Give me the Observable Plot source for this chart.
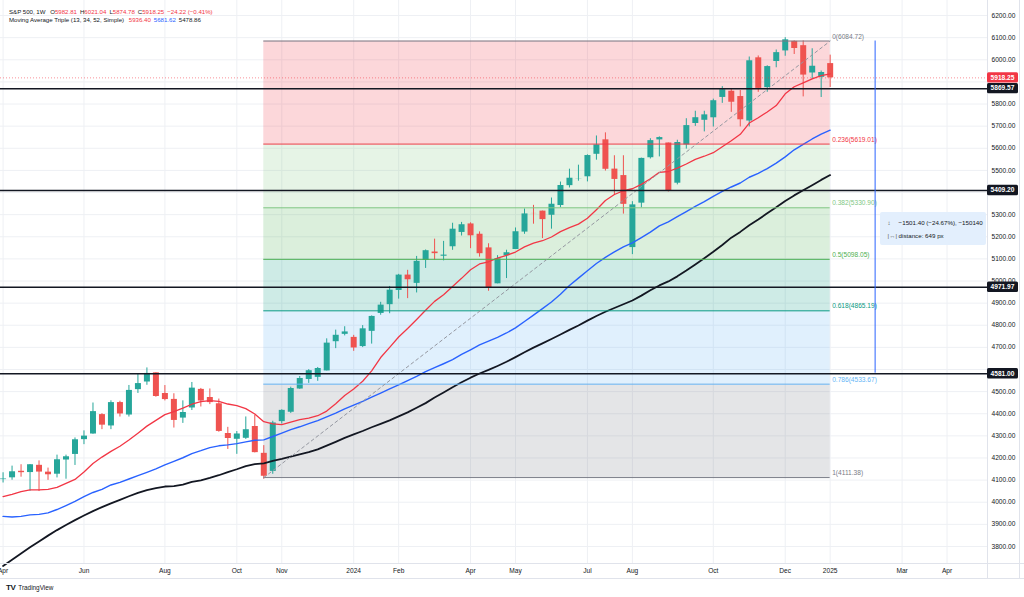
<!DOCTYPE html>
<html>
<head>
<meta charset="utf-8">
<script src="https://cdn.jsdelivr.net/npm/d3@7"></script>
<script src="https://cdn.jsdelivr.net/npm/@observablehq/plot@0.6"></script>
<style>
html,body{margin:0;padding:0;background:#fff;}
#wrap{position:relative;width:1024px;height:597px;overflow:hidden;font-family:"Liberation Sans",Arial,sans-serif;}
#chart{position:absolute;left:0;top:0;}
.legend{position:absolute;left:9px;font-size:6.1px;color:#131722;white-space:nowrap;line-height:1;}
.legend .g{margin-left:3px}
.red{color:#f23645}
.blue{color:#2962ff}
.blk{color:#131722}
#measure{position:absolute;background:#e3effd;border-radius:2px;font-size:6.2px;color:#131722;box-sizing:border-box;padding:4px 0 0 8px;line-height:13px;white-space:nowrap;}
#measure .ic{display:inline-block;width:11px;color:#555;}
#logo{position:absolute;left:6px;top:583px;font-size:6.4px;color:#131722;white-space:nowrap;}
#logo b{font-weight:900;font-size:8px;letter-spacing:-0.5px;margin-right:3px;}
</style>
</head>
<body>
<div id="wrap">
  <div id="chart"></div>
  <div class="legend" id="l1" style="top:9px"></div>
  <div class="legend" id="l2" style="top:17px"></div>
  <div id="measure"></div>
  <div id="logo"><b>TV</b>TradingView</div>
</div>
<script>
// ---------- data ----------
const weeks = [
"2023-04-03","2023-04-10","2023-04-17","2023-04-24","2023-05-01","2023-05-08","2023-05-15","2023-05-22","2023-05-29","2023-06-05",
"2023-06-12","2023-06-19","2023-06-26","2023-07-03","2023-07-10","2023-07-17","2023-07-24","2023-07-31","2023-08-07","2023-08-14",
"2023-08-21","2023-08-28","2023-09-04","2023-09-11","2023-09-18","2023-09-25","2023-10-02","2023-10-09","2023-10-16","2023-10-23",
"2023-10-30","2023-11-06","2023-11-13","2023-11-20","2023-11-27","2023-12-04","2023-12-11","2023-12-18","2023-12-25","2024-01-01",
"2024-01-08","2024-01-15","2024-01-22","2024-01-29","2024-02-05","2024-02-12","2024-02-19","2024-02-26","2024-03-04","2024-03-11",
"2024-03-18","2024-03-25","2024-04-01","2024-04-08","2024-04-15","2024-04-22","2024-04-29","2024-05-06","2024-05-13","2024-05-20",
"2024-05-27","2024-06-03","2024-06-10","2024-06-17","2024-06-24","2024-07-01","2024-07-08","2024-07-15","2024-07-22","2024-07-29",
"2024-08-05","2024-08-12","2024-08-19","2024-08-26","2024-09-02","2024-09-09","2024-09-16","2024-09-23","2024-09-30","2024-10-07",
"2024-10-14","2024-10-21","2024-10-28","2024-11-04","2024-11-11","2024-11-18","2024-11-25","2024-12-02","2024-12-09","2024-12-16",
"2024-12-23","2024-12-30","2025-01-06"];

const opens = [
4102.2,4110.3,4139.9,4134.1,4166.8,4136.0,4126.6,4190.8,4216.0,4282.9,
4308.3,4396.1,4344.8,4450.5,4394.2,4508.9,4543.4,4584.8,4491.6,4464.8,
4380.3,4426.0,4510.1,4473.3,4445.1,4310.6,4284.5,4289.0,4342.4,4221.0,
4139.4,4364.3,4406.7,4511.7,4554.9,4564.4,4593.4,4725.6,4758.9,4745.2,
4703.7,4772.4,4853.4,4893.0,4957.2,5026.8,4989.3,5093.0,5131.0,5112.0,
5154.8,5219.5,5258.0,5211.4,5149.7,4987.3,5114.1,5142.4,5221.1,5305.4,
5315.9,5297.2,5341.2,5431.1,5459.6,5471.1,5572.8,5638.2,5505.8,5476.6,
5151.1,5351.9,5557.2,5637.8,5623.9,5442.1,5615.1,5711.9,5726.5,5737.8,
5829.8,5857.8,5833.9,5723.2,6008.9,5874.2,5992.3,6040.1,6083.0,6063.8,
5940.3,5920.7,5982.81];
const highs = [
4133.1,4163.2,4169.5,4170.1,4186.9,4154.3,4212.9,4212.9,4290.7,4322.6,
4448.5,4400.2,4458.5,4456.5,4527.8,4578.4,4607.1,4584.6,4527.4,4490.3,
4458.3,4541.3,4514.3,4512.0,4466.4,4338.5,4319.6,4385.5,4393.6,4255.8,
4366.0,4418.0,4520.1,4568.4,4599.4,4609.2,4738.6,4778.0,4793.3,4754.3,
4798.5,4842.1,4903.7,4975.3,5030.1,5048.4,5111.1,5140.3,5189.3,5179.1,
5261.1,5264.9,5263.0,5222.1,5168.4,5114.6,5139.1,5239.7,5325.5,5341.9,
5315.9,5375.1,5447.3,5505.5,5523.6,5570.3,5655.6,5669.7,5566.2,5566.2,
5358.6,5555.4,5643.2,5651.6,5623.9,5636.3,5733.6,5767.4,5767.4,5822.1,
5878.5,5866.9,5861.0,6012.5,6017.3,5972.9,6044.2,6100.0,6085.2,6085.2,
6049.8,5949.3,6021.04];
const lows = [
4086.9,4099.4,4113.2,4049.4,4048.3,4098.9,4109.9,4104.0,4166.2,4260.2,
4307.2,4328.1,4328.1,4385.1,4385.1,4491.7,4528.6,4474.6,4458.0,4335.3,
4356.3,4414.5,4430.5,4441.2,4316.5,4238.6,4216.5,4283.8,4223.0,4103.8,
4126.3,4353.3,4401.4,4510.4,4537.2,4546.5,4593.4,4694.3,4751.9,4682.1,
4699.0,4714.8,4845.2,4852.1,4918.1,4920.3,4946.0,5056.8,5094.4,5091.1,
5138.7,5203.4,5146.1,5107.9,4953.6,4987.3,5011.1,5142.4,5211.2,5256.9,
5191.7,5234.3,5331.5,5420.5,5451.1,5448.0,5546.2,5497.0,5391.0,5302.4,
5119.3,5330.8,5551.5,5561.0,5402.6,5434.5,5596.4,5698.9,5674.0,5695.9,
5803.1,5762.4,5696.5,5696.5,5853.0,5853.0,5963.9,6016.0,6024.0,5832.3,
5911.0,5829.5,5874.78];
const closes = [
4105.02,4137.64,4133.52,4169.48,4136.25,4124.08,4191.98,4205.45,4282.37,4298.86,
4409.59,4348.33,4450.38,4398.95,4505.42,4536.34,4582.23,4478.03,4464.05,4369.71,
4405.71,4515.77,4457.49,4450.32,4320.06,4288.05,4308.50,4327.78,4224.16,4117.37,
4358.34,4415.24,4514.02,4559.34,4594.63,4604.37,4719.19,4754.63,4769.83,4697.24,
4783.83,4839.81,4890.97,4958.61,5026.61,5005.57,5088.80,5137.08,5123.69,5117.09,
5234.18,5254.35,5204.34,5123.41,4967.23,5099.96,5127.79,5222.68,5303.27,5304.72,
5277.51,5346.99,5431.60,5464.62,5460.48,5567.19,5615.35,5505.00,5459.10,5346.56,
5344.16,5554.25,5634.61,5648.40,5408.42,5626.02,5702.55,5738.17,5751.07,5815.03,
5864.67,5808.12,5728.80,5995.54,5870.62,5969.34,6032.38,6090.27,6051.09,5930.85,
5970.84,5942.47,5918.25];

// moving averages (13, 34, 52) read per week
const ma13 = [
4025,4036,4048,4056,4056,4058,4067,4085,4103,4137,
4175,4204,4230,4253,4281,4312,4344,4370,4396,4410,
4425,4443,4455,4459,4456,4444,4437,4423,4399,4364,
4354,4351,4362,4373,4380,4391,4412,4445,4482,4512,
4547,4594,4654,4700,4747,4785,4826,4868,4908,4938,
4975,5012,5051,5077,5087,5103,5116,5131,5154,5171,
5182,5199,5223,5241,5257,5284,5322,5364,5391,5408,
5417,5437,5462,5491,5495,5510,5529,5550,5564,5580,
5607,5634,5663,5714,5738,5764,5793,5846,5878,5896,
5914,5928,5936.40];
const ma34 = [
3936,3933,3936,3943,3945,3952,3967,3985,4004,4025,
4044,4058,4078,4090,4105,4120,4135,4151,4169,4185,
4201,4220,4233,4247,4255,4259,4265,4273,4280,4282,
4297,4312,4328,4341,4355,4369,4386,4403,4422,4439,
4456,4475,4493,4512,4530,4550,4569,4590,4608,4626,
4645,4668,4689,4711,4728,4745,4765,4788,4817,4846,
4875,4905,4940,4980,5013,5046,5079,5107,5132,5154,
5172,5196,5221,5249,5267,5291,5314,5337,5359,5383,
5405,5425,5443,5469,5487,5508,5533,5561,5593,5618,
5642,5664,5681.62];
const ma52 = [
3712,3740,3768,3796,3823,3849,3874,3897,3919,3940,
3960,3978,3995,4011,4027,4042,4055,4064,4071,4073,
4080,4092,4099,4110,4122,4136,4149,4163,4172,4176,
4187,4196,4206,4216,4226,4239,4256,4273,4291,4307,
4322,4339,4354,4370,4388,4406,4427,4448,4473,4496,
4520,4542,4563,4582,4598,4616,4635,4656,4678,4699,
4718,4738,4758,4779,4799,4821,4842,4861,4878,4895,
4912,4934,4958,4980,4998,5021,5047,5075,5103,5132,
5163,5196,5222,5252,5278,5306,5333,5362,5387,5410,
5433,5457,5478.86];

// Fibonacci retracement
const fibRatios = [0, 0.236, 0.382, 0.5, 0.618, 0.786, 1];
const fibPrices = [6084.72, 5619.01, 5330.90, 5098.05, 4865.19, 4533.67, 4111.38];
const fibColors = ["#787b86", "#f23645", "#81c784", "#4caf50", "#089981", "#64b5f6", "#787b86"];
const fibAnchors = ["2023-10-23", "2025-01-06"];

// horizontal support/resistance lines
const srLevels = [5869.57, 5409.20, 4971.97, 4581.00];

// measure tool
const measureDate = "2025-02-10";
const measurePrices = [6084.72, 4583.32];
const measureDistance = "649 px";

// axis ticks
const xTickDates = ["2023-04-03","2023-06-05","2023-08-07","2023-10-02","2023-11-06","2024-01-01","2024-02-05","2024-04-01","2024-05-06","2024-07-01","2024-08-05","2024-10-07","2024-12-02","2025-01-06","2025-03-03","2025-04-07"];
const xTickLabels = ["Apr","Jun","Aug","Oct","Nov","2024","Feb","Apr","May","Jul","Aug","Oct","Dec","2025","Mar","Apr"];
const gridPrices = [3800,3900,4000,4100,4200,4300,4400,4500,4600,4700,4800,4900,5000,5100,5200,5300,5400,5500,5600,5700,5800,5900,6000,6100,6200];
// labels hidden behind the price boxes in the reference are not printed
const yTickLabels = [3800,3900,4000,4100,4200,4300,4400,4500,4700,4800,4900,5000,5100,5200,5300,5500,5600,5700,5800,6000,6100,6200];

// ---------- checks ----------
[opens, highs, lows, closes, ma13, ma34, ma52].forEach((a, i) => {
  if (a.length !== weeks.length) throw new Error("length mismatch in array " + i + ": " + a.length + " vs " + weeks.length);
});

// ---------- build ----------
const parse = d3.utcParse("%Y-%m-%d");
const UP = "#26a69a", DOWN = "#ef5350";
const candles = weeks.map((w, i) => ({date: parse(w), open: opens[i], high: highs[i], low: lows[i], close: closes[i]}));
const upC = candles.filter(d => d.close >= d.open);
const dnC = candles.filter(d => d.close < d.open);
const maRows = weeks.map((w, i) => ({date: parse(w), a: ma13[i], b: ma34[i], c: ma52[i]}));
const fStart = parse(fibAnchors[0]), fEnd = parse(fibAnchors[1]);
const tickDates = xTickDates.map(parse);
const tickLabel = new Map(tickDates.map((d, i) => [+d, xTickLabels[i]]));
const last = candles.length - 1;
const lastClose = closes[last];

const fibBandMarks = fibPrices.slice(0, -1).map((p, i) =>
  Plot.rect([{x1: fStart, x2: fEnd, y1: p, y2: fibPrices[i + 1]}], {x1: "x1", x2: "x2", y1: "y1", y2: "y2", fill: fibColors[i + 1], fillOpacity: 0.2})
);
const fibLineMarks = fibPrices.map((p, i) =>
  Plot.ruleY([p], {x1: fStart, x2: fEnd, stroke: fibColors[i], strokeWidth: 1})
);
const fibLabelMarks = fibPrices.map((p, i) =>
  Plot.text([`${fibRatios[i]}(${p.toFixed(2)})`], {x: fEnd, y: p, dx: 2, dy: -4.5, textAnchor: "start", fill: fibColors[i], fontSize: 6.6})
);

const chart = Plot.plot({
  width: 1024,
  height: 580,
  marginLeft: 0,
  marginRight: 37,
  marginTop: 0,
  marginBottom: 17,
  style: {fontFamily: "'Liberation Sans', Arial, sans-serif", fontSize: "6.6px", background: "transparent", overflow: "hidden"},
  x: {type: "utc", domain: [parse("2023-04-01"), new Date(Date.UTC(2025, 4, 8, 12))]},
  y: {domain: [3723, 6268]},
  marks: [
    Plot.gridY(gridPrices, {stroke: "#eef0f4", strokeOpacity: 1}),
    Plot.gridX(tickDates, {stroke: "#eef0f4", strokeOpacity: 1}),
    ...fibBandMarks,
    // candles
    Plot.ruleX(upC, {x: "date", y1: "low", y2: "high", stroke: UP, strokeWidth: 1}),
    Plot.ruleX(dnC, {x: "date", y1: "low", y2: "high", stroke: DOWN, strokeWidth: 1}),
    Plot.ruleX(upC, {x: "date", y1: "open", y2: "close", stroke: UP, strokeWidth: 6}),
    Plot.ruleX(dnC, {x: "date", y1: "open", y2: "close", stroke: DOWN, strokeWidth: 6}),
    // moving averages
    Plot.line(maRows, {x: "date", y: "c", stroke: "#131722", strokeWidth: 1.8}),
    Plot.line(maRows, {x: "date", y: "b", stroke: "#2962ff", strokeWidth: 1.4}),
    Plot.line(maRows, {x: "date", y: "a", stroke: "#f23645", strokeWidth: 1.3}),
    // drawings
    ...fibLineMarks,
    Plot.line([{x: fStart, y: fibPrices[fibPrices.length - 1]}, {x: fEnd, y: fibPrices[0]}], {x: "x", y: "y", stroke: "#9598a1", strokeWidth: 1, strokeDasharray: "3,3"}),
    ...fibLabelMarks,
    Plot.ruleY(srLevels, {stroke: "#131722", strokeWidth: 1.5}),
    Plot.ruleY([lastClose], {stroke: "#f23645", strokeOpacity: 0.55, strokeDasharray: "1,2", strokeWidth: 1}),
    Plot.ruleX([parse(measureDate)], {y1: measurePrices[0], y2: measurePrices[1], stroke: "#2962ff", strokeWidth: 1}),
    // axes
    Plot.axisY(yTickLabels, {anchor: "right", tickSize: 0, tickPadding: 4, tickFormat: d => d.toFixed(2), fill: "#131722", fontSize: 6.6}),
    Plot.axisX(tickDates, {anchor: "bottom", tickSize: 0, tickPadding: 5, tickFormat: d => tickLabel.get(+d), fill: "#131722", fontSize: 6.6})
  ]
});
document.getElementById("chart").appendChild(chart);

// ---------- price-axis labels and chrome ----------
const ys = chart.scale("y"), xs = chart.scale("x");
const svg = d3.select(chart);
const chrome = svg.append("g");
chrome.append("line").attr("x1", 987.5).attr("x2", 987.5).attr("y1", 0).attr("y2", 579).attr("stroke", "#e0e3eb");
chrome.append("line").attr("x1", 0).attr("x2", 1024).attr("y1", 563.5).attr("y2", 563.5).attr("stroke", "#e0e3eb");
chrome.append("line").attr("x1", 0).attr("x2", 1024).attr("y1", 578.5).attr("y2", 578.5).attr("stroke", "#e0e3eb");
chrome.append("line").attr("x1", 1019.5).attr("x2", 1019.5).attr("y1", 0).attr("y2", 579).attr("stroke", "#e0e3eb");
function priceBox(v, col) {
  const yy = ys.apply(v);
  chrome.append("rect").attr("x", 987).attr("y", yy - 5.2).attr("width", 31).attr("height", 10.4).attr("rx", 1.5).attr("fill", col);
  chrome.append("text").attr("x", 1002.5).attr("y", yy).attr("dy", "0.35em").attr("text-anchor", "middle")
    .attr("fill", "#fff").attr("font-size", 6.6).attr("font-weight", 700).text(v.toFixed(2));
}
srLevels.forEach(v => priceBox(v, "#131722"));
priceBox(lastClose, "#f23645");

// ---------- legend ----------
const chg = lastClose - closes[last - 1];
const pct = chg / closes[last - 1] * 100;
const fmt = v => (v < 0 ? "\u2212" : "") + Math.abs(v).toFixed(2);
document.getElementById("l1").innerHTML =
  `S&amp;P 500, 1W <span class="g">O<span class="red">${opens[last].toFixed(2)}</span></span>` +
  `<span class="g">H<span class="red">${highs[last].toFixed(2)}</span></span>` +
  `<span class="g">L<span class="red">${lows[last].toFixed(2)}</span></span>` +
  `<span class="g">C<span class="red">${lastClose.toFixed(2)}</span></span>` +
  `<span class="g red">${fmt(chg)} (${fmt(pct)}%)</span>`;
document.getElementById("l2").innerHTML =
  `Moving Average Triple (13, 34, 52, Simple) <span class="g red">${ma13[last].toFixed(2)}</span>` +
  `<span class="g blue">${ma34[last].toFixed(2)}</span><span class="g blk">${ma52[last].toFixed(2)}</span>`;

// ---------- measure box ----------
const md = measurePrices[1] - measurePrices[0];
const mp = md / measurePrices[0] * 100;
const mbox = document.getElementById("measure");
const mx = xs.apply(parse(measureDate));
mbox.style.left = (mx + 5) + "px";
mbox.style.top = ys.apply(5311) + "px";
mbox.style.width = (986 - mx - 5) + "px";
mbox.style.height = (ys.apply(5160) - ys.apply(5311)) + "px";
mbox.innerHTML = `<div><span class="ic">&#8597;</span>${fmt(md)} (${fmt(mp)}%), ${fmt(md * 100).replace(".00", "")}</div>` +
  `<div><span class="ic">|&#8596;|</span>distance: ${measureDistance}</div>`;
</script>
</body>
</html>
